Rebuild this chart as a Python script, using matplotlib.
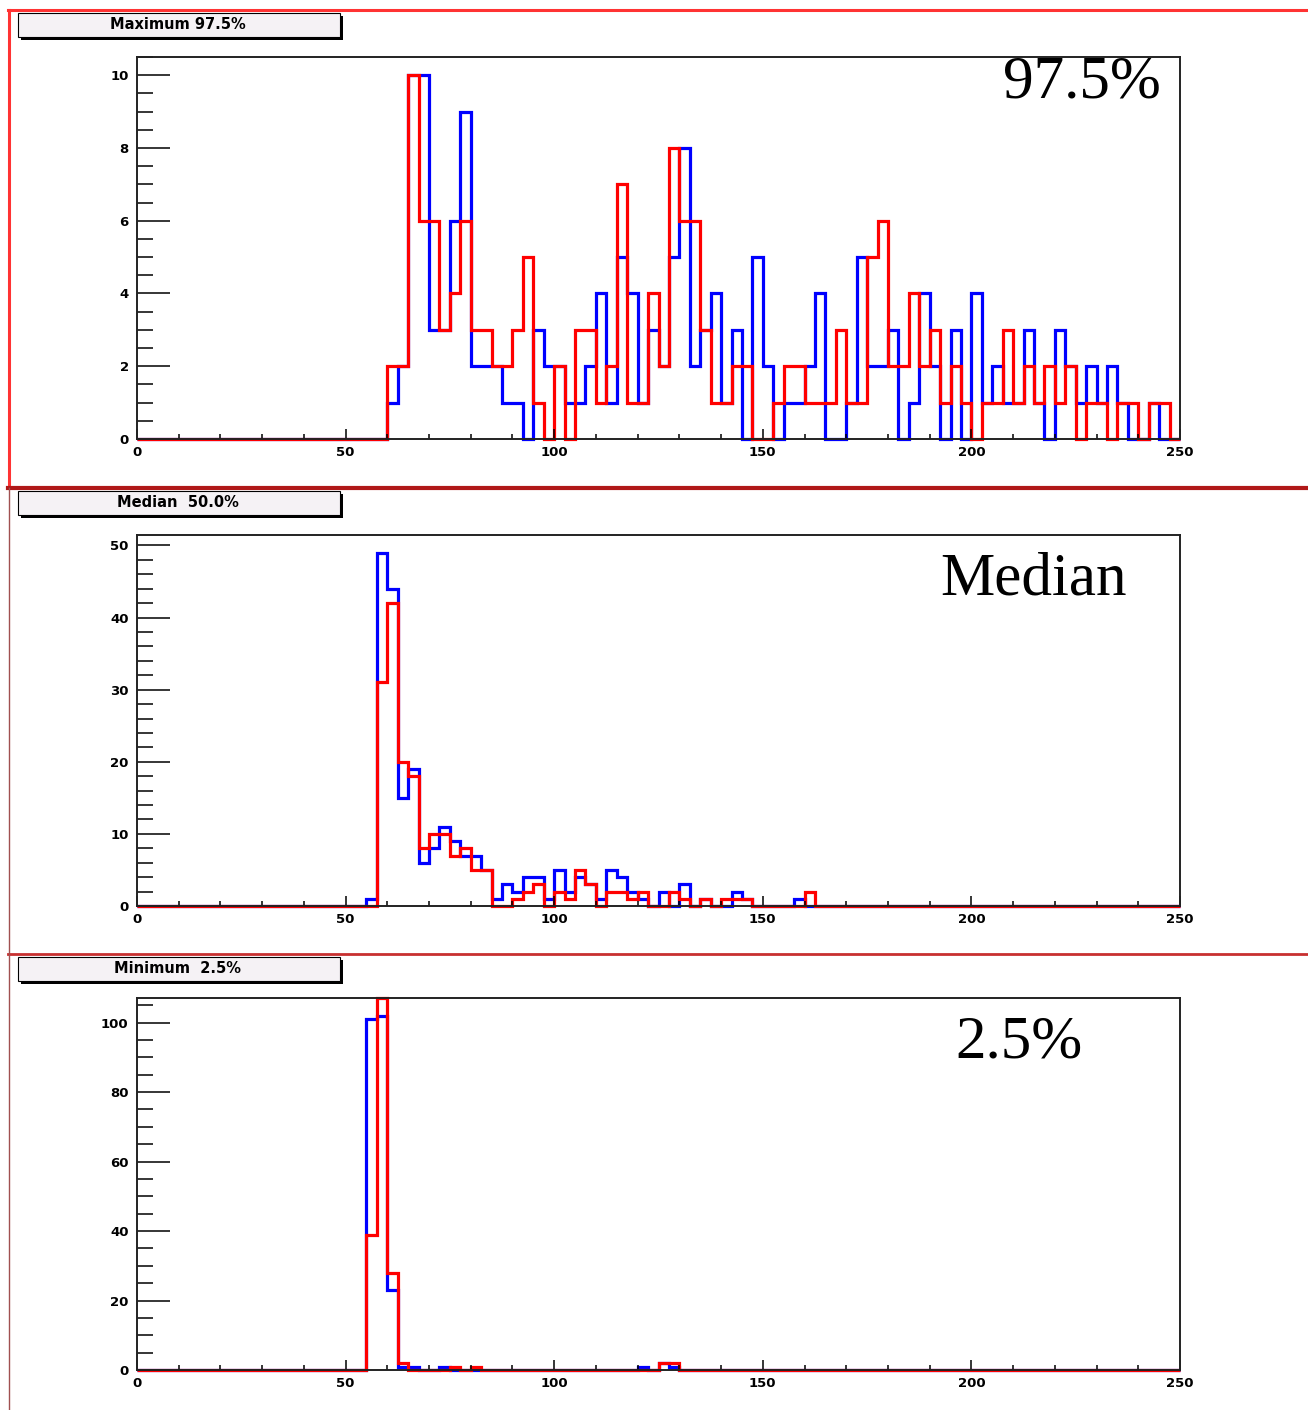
import numpy as np
import matplotlib.pyplot as plt
from matplotlib.patches import Rectangle
from matplotlib.ticker import MultipleLocator

W, H = 1308, 1410

# histogram binning: 100 bins of 2.5 between 0 and 250
EDGES = np.linspace(0, 250, 101)

# ---- Maximum 97.5% (counts from x = 60) ----
max_x0 = 60.0
max_blue = [1, 2, 10, 10, 3, 3, 6, 9, 2, 2,
            2, 1, 1, 0, 3, 2, 2, 1, 1, 2,
            4, 1, 5, 4, 1, 3, 2, 5, 8, 2,
            3, 4, 1, 3, 0, 5, 2, 0, 1, 1,
            2, 4, 0, 0, 1, 5, 2, 2, 3, 0,
            1, 4, 2, 0, 3, 0, 4, 1, 2, 1,
            1, 3, 1, 0, 3, 2, 1, 2, 1, 2,
            1, 0, 0, 1, 0, 0]
max_red = [2, 2, 10, 6, 6, 3, 4, 6, 3, 3,
           2, 2, 3, 5, 1, 0, 2, 0, 3, 3,
           1, 2, 7, 1, 1, 4, 2, 8, 6, 6,
           3, 1, 1, 2, 2, 0, 0, 1, 2, 2,
           1, 1, 1, 3, 1, 1, 5, 6, 2, 2,
           4, 2, 3, 1, 2, 1, 0, 1, 1, 3,
           1, 2, 1, 2, 1, 2, 0, 1, 1, 0,
           1, 1, 0, 1, 1, 0]

# ---- Median 50.0% (counts from x = 55) ----
med_x0 = 55.0
med_blue = [1, 49, 44, 15, 19, 6, 8, 11, 9, 7,
            7, 5, 1, 3, 2, 4, 4, 1, 5, 2,
            4, 3, 1, 5, 4, 2, 1, 0, 2, 0,
            3, 0, 1, 0, 0, 2, 1, 0, 0, 0,
            0, 1, 0]
med_red = [0, 31, 42, 20, 18, 8, 10, 10, 7, 8,
           5, 5, 0, 0, 1, 2, 3, 0, 2, 1,
           5, 3, 0, 2, 2, 1, 2, 0, 0, 2,
           1, 0, 1, 0, 1, 1, 1, 0, 0, 0,
           0, 0, 2]

# ---- Minimum 2.5% (counts from x = 55) ----
min_x0 = 55.0
min_blue = [101, 102, 23, 1, 1, 0, 0, 1, 0, 0,
            0, 0, 0, 0, 0, 0, 0, 0, 0, 0,
            0, 0, 0, 0, 0, 0, 1, 0, 2, 1]
min_red = [39, 107, 28, 2, 0, 0, 0, 0, 1, 0,
           1, 0, 0, 0, 0, 0, 0, 0, 0, 0,
           0, 0, 0, 0, 0, 0, 0, 0, 2, 2]

PANELS = [
    # title, big label, x0, blue, red, y step, y minor, frame (px), label pos, separator y
    ("Maximum 97.5%", "97.5%", max_x0, max_blue, max_red, 2, 0.5,
     (137, 57, 1180, 439), (1003, 97), 10),
    ("Median  50.0%", "Median", med_x0, med_blue, med_red, 10, 2,
     (137, 535, 1180, 906), (940, 594), 488),
    ("Minimum  2.5%", "2.5%", min_x0, min_blue, min_red, 20, 5,
     (137, 998, 1180, 1370), (955, 1057), 954),
]


def full_counts(x0, vals):
    out = np.zeros(len(EDGES) - 1)
    i0 = int(round(x0 / 2.5))
    out[i0:i0 + len(vals)] = vals
    return out


def rect(x0, y0, x1, y1):
    return [x0 / W, 1 - y1 / H, (x1 - x0) / W, (y1 - y0) / H]


fig = plt.figure(figsize=(W / 100, H / 100), dpi=100)
fig.patch.set_facecolor('white')

for title, big, x0, blue, red, ystep, yminor, frame, lab, sep in PANELS:
    ax = fig.add_axes(rect(*frame))
    b = full_counts(x0, blue)
    r = full_counts(x0, red)
    ax.stairs(b, EDGES, color='#0000ff', lw=2.3, baseline=0, clip_on=False)
    ax.stairs(r, EDGES, color='#ff0000', lw=2.3, baseline=0, clip_on=False)
    ax.set_xlim(0, 250)
    ax.set_ylim(0, 1.05 * b.max())

    ax.xaxis.set_major_locator(MultipleLocator(50))
    ax.xaxis.set_minor_locator(MultipleLocator(10))
    ax.yaxis.set_major_locator(MultipleLocator(ystep))
    ax.yaxis.set_minor_locator(MultipleLocator(yminor))
    ax.tick_params(axis='x', which='major', direction='in', length=7.5,
                   width=1.1, pad=5)
    ax.tick_params(axis='x', which='minor', direction='in', length=3.6,
                   width=1.1)
    ax.tick_params(axis='y', which='major', direction='in', length=23.5,
                   width=1.1, pad=6)
    ax.tick_params(axis='y', which='minor', direction='in', length=11.5,
                   width=1.1)
    for lbl in ax.get_xticklabels() + ax.get_yticklabels():
        lbl.set_fontsize(9.5)
        lbl.set_fontweight('bold')
    for sp in ax.spines.values():
        sp.set_linewidth(1.4)
        sp.set_color('#222222')

    ax.text(lab[0] / W, 1 - lab[1] / H, big, transform=fig.transFigure,
            family='Liberation Serif', fontsize=44, ha='left', va='baseline')

# ---- canvas decorations: title boxes and red pad borders ----
deco = fig.add_axes([0, 0, 1, 1], zorder=-1)
deco.set_xlim(0, W)
deco.set_ylim(H, 0)
deco.axis('off')

for title, big, x0, blue, red, ystep, yminor, frame, lab, sep in PANELS:
    by = sep + 3
    deco.add_patch(Rectangle((21, by + 3), 322, 24, facecolor='black',
                             edgecolor='none'))
    deco.add_patch(Rectangle((18, by), 322, 24, facecolor='#f5f2f5',
                             edgecolor='black', lw=0.8))
    deco.text(178, by + 11.5, title, ha='center', va='center',
              fontsize=10.5, fontweight='bold')

deco.plot([8, W], [10, 10], color='#ff3333', lw=2.2)
deco.plot([9, 9], [10, 488], color='#ff3333', lw=2.2)
deco.plot([8, W], [488, 488], color='#b01818', lw=3)
deco.plot([8, W], [954, 954], color='#c83030', lw=2)
deco.plot([9, 9], [488, 1410], color='#a05050', lw=1)

fig.savefig('out.png', dpi=100)
